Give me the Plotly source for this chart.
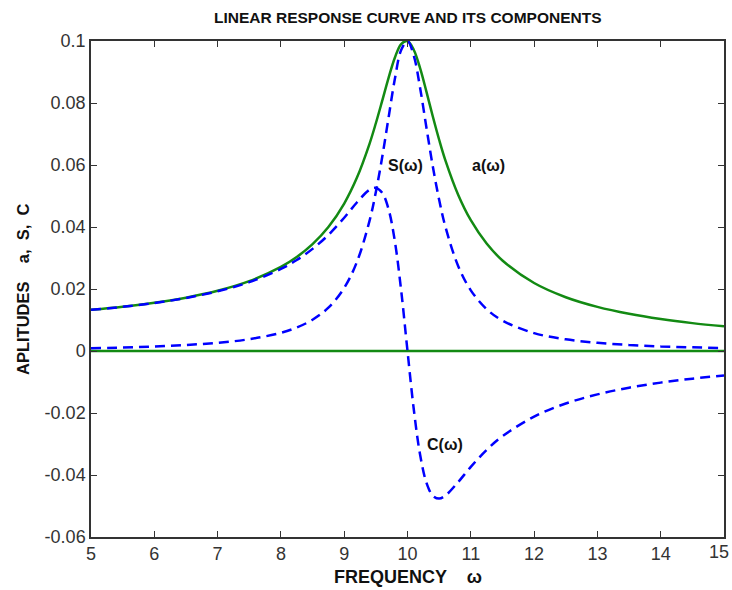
import plotly.graph_objects as go

# frequency samples and read-off values
omega = [5, 5.5, 6, 6.5, 7, 7.5, 8, 8.25, 8.5, 8.75, 9, 9.2, 9.4, 9.5, 9.6, 9.7, 9.8, 9.9, 10,
         10.1, 10.2, 10.3, 10.4, 10.5, 10.6, 10.8, 11, 11.25, 11.5, 12, 12.5, 13, 13.5, 14, 14.5, 15]
a_vals = [0.0133, 0.01429, 0.01556, 0.01721, 0.01943, 0.02253, 0.02712, 0.03032, 0.03446, 0.03997,
          0.04757, 0.05585, 0.06684, 0.07346, 0.08068, 0.08804, 0.09461, 0.09903, 0.1,
          0.09711, 0.09115, 0.08357, 0.07565, 0.06815, 0.06141, 0.05041, 0.04218, 0.03467, 0.02921,
          0.02193, 0.01735, 0.01424, 0.012, 0.01031, 0.008993, 0.007943]
s_vals = [0.000885, 0.001124, 0.001452, 0.001925, 0.002642, 0.003807, 0.005882, 0.007582, 0.01009,
          0.01398, 0.02036, 0.0287, 0.04199, 0.05127, 0.06249, 0.07518, 0.08772, 0.09709, 0.1,
          0.09524, 0.08475, 0.07194, 0.05951, 0.04877, 0.03998, 0.02744, 0.01957, 0.01352, 0.00981,
          0.005769, 0.003765, 0.002637, 0.001943, 0.001487, 0.001173, 0.000946]
c_vals = [0.01327, 0.01425, 0.01549, 0.0171, 0.01925, 0.0222, 0.02647, 0.02935, 0.03295, 0.03745,
          0.04299, 0.04791, 0.052, 0.05261, 0.05103, 0.04581, 0.03545, 0.01952, 0.0,
          -0.01895, -0.03357, -0.04253, -0.0467, -0.04761, -0.04662, -0.04228, -0.03737, -0.03192,
          -0.02751, -0.02115, -0.01694, -0.014, -0.01184, -0.0102, -0.008916, -0.007886]
zero_x = [5, 15]
zero_y = [0, 0]

x_ticks = [5, 6, 7, 8, 9, 10, 11, 12, 13, 14, 15]
x_tick_text = ["5", "6", "7", "8", "9", "10", "11", "12", "13", "14", ""]
last_x_label = "15"
y_ticks = [-0.06, -0.04, -0.02, 0, 0.02, 0.04, 0.06, 0.08, 0.1]
y_tick_text = ["-0.06", "-0.04", "-0.02", "0", "0.02", "0.04", "0.06", "0.08", "0.1"]

labels = [("S(ω)", 9.976, 0.06), ("a(ω)", 11.28, 0.06), ("C(ω)", 10.585, -0.0303)]

GREEN = "#138a13"
BLUE = "#0000ff"
FONT = "Liberation Sans, Arial"

fig = go.Figure()
fig.add_trace(go.Scatter(x=zero_x, y=zero_y, mode="lines",
                         line=dict(color=GREEN, width=2.5), showlegend=False))
fig.add_trace(go.Scatter(x=omega, y=a_vals, mode="lines",
                         line=dict(color=GREEN, width=2.5, shape="spline"), showlegend=False))
fig.add_trace(go.Scatter(x=omega, y=s_vals, mode="lines",
                         line=dict(color=BLUE, width=2.5, dash="10px,6px", shape="spline"), showlegend=False))
fig.add_trace(go.Scatter(x=omega, y=c_vals, mode="lines",
                         line=dict(color=BLUE, width=2.5, dash="10px,6px", shape="spline"), showlegend=False))

for txt, xx, yy in labels:
    fig.add_annotation(x=xx, y=yy, text="<b>" + txt + "</b>", showarrow=False,
                       font=dict(family=FONT, size=16, color="#111"))

# last x tick label, kept inside the page edge
fig.add_annotation(x=x_ticks[-1], y=0, xref="x", yref="paper", xanchor="right", yanchor="middle",
                   xshift=7, yshift=-15, text=last_x_label, showarrow=False,
                   font=dict(family=FONT, size=18, color="#333"))

# axis titles placed as paper-anchored text
fig.add_annotation(x=0.5, y=-0.0806, xref="paper", yref="paper", xanchor="center", yanchor="middle",
                   text="<b>FREQUENCY    ω</b>", showarrow=False,
                   font=dict(family=FONT, size=18, color="#111"))
fig.add_annotation(x=-0.1074, y=0.5, xref="paper", yref="paper", xanchor="center", yanchor="middle",
                   text="<b>APLITUDES    a,  S,  C</b>", showarrow=False, textangle=-90,
                   font=dict(family=FONT, size=16.5, color="#111"))

axis_common = dict(showgrid=False, zeroline=False, showline=True, linecolor="#333", linewidth=1.5,
                   mirror="ticks", ticks="inside", ticklen=6, tickcolor="#333", tickwidth=1.2,
                   automargin=False,
                   tickfont=dict(family=FONT, size=18, color="#333"))

fig.update_layout(
    width=732, height=590,
    margin=dict(l=91, r=8, t=41, b=53),
    paper_bgcolor="white", plot_bgcolor="white",
    title=dict(text="<b>LINEAR RESPONSE CURVE AND ITS COMPONENTS</b>", x=0.557, xanchor="center",
               y=0.97, yanchor="middle",
               font=dict(family=FONT, size=15.5, color="#111")),
    xaxis=dict(range=[5, 15], tickvals=x_ticks, ticktext=x_tick_text, **axis_common),
    yaxis=dict(range=[-0.06, 0.1], tickvals=y_ticks, ticktext=y_tick_text, **axis_common),
)

fig.write_html("out.html")
